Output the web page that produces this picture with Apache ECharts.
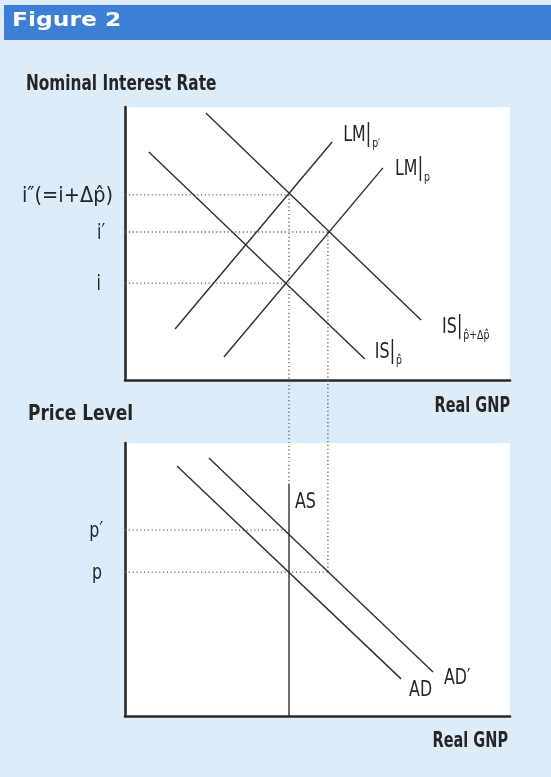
<!DOCTYPE html>
<html>
<head>
<meta charset="utf-8">
<script src="https://cdn.jsdelivr.net/npm/echarts@6/dist/echarts.min.js"></script>
<style>html,body{margin:0;padding:0;background:#dcedf9;}#c{width:551px;height:777px;}</style>
</head>
<body>
<div id="c"></div>
<script>
// ---- data (abstract units, both panels 0..100 on each axis) ----
const isP   = [[6.2, 83.5], [62.3, 7.7]];     // IS | p̂
const isPD  = [[21.0, 97.8], [76.9, 22.0]];   // IS | p̂+Δp̂
const lmPp  = [[13.0, 18.7], [53.8, 87.2]];   // LM | p′
const lmP   = [[25.7, 8.4], [67.0, 77.7]];    // LM | p
const rateTickText = ['i', 'i′', 'i″(=i+Δp̂)'];
const rateValues   = [35.5, 54.2, 67.8];
const rateMeetX    = [41.8, 52.7, 42.6];

const ad    = [[13.5, 91.6], [71.7, 13.6]];   // AD
const adP   = [[21.8, 94.5], [80.0, 16.1]];   // AD′
const asCurve = [[42.6, 85.0], [42.6, 0]];    // AS
const priceTickText = ['p', 'p′'];
const priceValues   = [52.7, 68.1];
const priceMeetX    = [52.7, 42.6];

// vertical drops from the rate panel to the price panel
const dropX         = [42.6, 52.7];
const dropFromRate  = [67.8, 54.2];
const dropToPrice   = [85.0, 52.7];

const FAM = "'DejaVu Sans', sans-serif";
const INK = '#262626';

function ax(g) {
  return {type: 'value', gridIndex: g, min: 0, max: 100,
    axisLine: {show: true, onZero: false, lineStyle: {color: '#2a2a2a', width: 2.6}},
    axisTick: {show: false}, axisLabel: {show: false}, splitLine: {show: false}};
}
function curve(data, g) {
  return {type: 'line', xAxisIndex: g, yAxisIndex: g, data: data, symbol: 'none', silent: true,
    animation: false, z: 4, lineStyle: {color: '#2e2e2e', width: 1.4}};
}
function dotted(data, g, clip) {
  return {type: 'line', xAxisIndex: g, yAxisIndex: g, data: data, symbol: 'none', silent: true,
    animation: false, z: 3, clip: clip !== false,
    lineStyle: {color: '#666666', width: 1.4, type: [1.2, 2.6]}};
}

const series = [];
[isP, isPD, lmPp, lmP].forEach(d => series.push(curve(d, 0)));
rateValues.forEach((v, k) => series.push(dotted([[0, v], [rateMeetX[k], v]], 0)));
[ad, adP, asCurve].forEach(d => series.push(curve(d, 1)));
priceValues.forEach((v, k) => series.push(dotted([[0, v], [priceMeetX[k], v]], 1)));

const option = {
  backgroundColor: '#dcedf9',
  animation: false,
  grid: [
    {left: 125, top: 107, width: 385, height: 273, show: true, backgroundColor: '#ffffff', borderWidth: 0},
    {left: 125, top: 443, width: 385, height: 273, show: true, backgroundColor: '#ffffff', borderWidth: 0}
  ],
  xAxis: [ax(0), ax(1)],
  yAxis: [ax(0), ax(1)],
  series: series
};

const chart = echarts.init(document.getElementById('c'), null, {width: 551, height: 777});
chart.setOption(option);

const P = (g, pt) => chart.convertToPixel({xAxisIndex: g, yAxisIndex: g}, pt);

// vertical dotted drops across both panels, mapped through the axes' own scales
const dropSeries = dropX.map((x, k) => {
  const top = chart.convertFromPixel({xAxisIndex: 1, yAxisIndex: 1}, P(0, [x, dropFromRate[k]]));
  return dotted([[x, top[1]], [x, dropToPrice[k]]], 1, false);
});

function txt(x, y, text, o) {
  o = o || {};
  return {type: 'text', x: x, y: y, scaleX: o.sx || 0.72, silent: true, z: 20,
    style: {text: text, fill: o.fill || INK, fontFamily: o.fam || FAM, fontSize: o.size || 22,
      fontWeight: o.weight || 'normal', align: o.align || 'left', verticalAlign: 'middle',
      rich: o.rich}};
}
const richCurve = {
  m: {fontFamily: FAM, fontSize: 22, fill: INK, color: INK},
  b: {fontFamily: FAM, fontSize: 24, fill: INK, color: INK},
  s: {fontFamily: FAM, fontSize: 13, fill: INK, color: INK, padding: [17, 0, 0, 1]}
};
function curveLabel(g, pt, dx, dy, text) {
  const p = P(g, pt);
  return txt(p[0] + dx, p[1] + dy, text, {rich: richCurve});
}
function tickLabel(g, v, right, text, sx) {
  const p = P(g, [0, v]);
  return txt(right, p[1] + 1, text, {align: 'right', sx: sx || 0.72, size: 22});
}

const graphics = [
  {type: 'rect', x: 4, y: 5, shape: {width: 547, height: 35}, style: {fill: '#3d7fd5'}, z: 1, silent: true},
  txt(12, 21, 'Figure 2', {fill: '#ffffff', weight: 'bold', size: 20, sx: 1.17}),
  txt(26, 85, 'Nominal Interest Rate', {weight: 'bold', size: 21, sx: 0.73}),
  txt(28, 415, 'Price Level', {weight: 'bold', size: 21, sx: 0.81}),
  txt(510, 407, 'Real GNP', {weight: 'bold', size: 21, sx: 0.69, align: 'right'}),
  txt(508, 742, 'Real GNP', {weight: 'bold', size: 21, sx: 0.69, align: 'right'}),
  curveLabel(0, lmPp[1], 11, -7, '{m|LM}{b||}{s|p′}'),
  curveLabel(0, lmP[1], 12, 1, '{m|LM}{b||}{s|p}'),
  curveLabel(0, isP[1], 10, -7, '{m|IS}{b||}{s|p̂}'),
  curveLabel(0, isPD[1], 21, 7, '{m|IS}{b||}{s|p̂+Δp̂}'),
  tickLabel(0, rateValues[0], 101, rateTickText[0]),
  tickLabel(0, rateValues[1], 105, rateTickText[1]),
  tickLabel(0, rateValues[2], 113, rateTickText[2], 0.88),
  curveLabel(1, asCurve[0], 6, 18, '{m|AS}'),
  curveLabel(1, ad[1], 8, 11, '{m|AD}'),
  curveLabel(1, adP[1], 11, 6, '{m|AD′}'),
  tickLabel(1, priceValues[0], 102, priceTickText[0]),
  tickLabel(1, priceValues[1], 103, priceTickText[1])
];

chart.setOption({series: series.concat(dropSeries), graphic: graphics});
</script>
</body>
</html>
